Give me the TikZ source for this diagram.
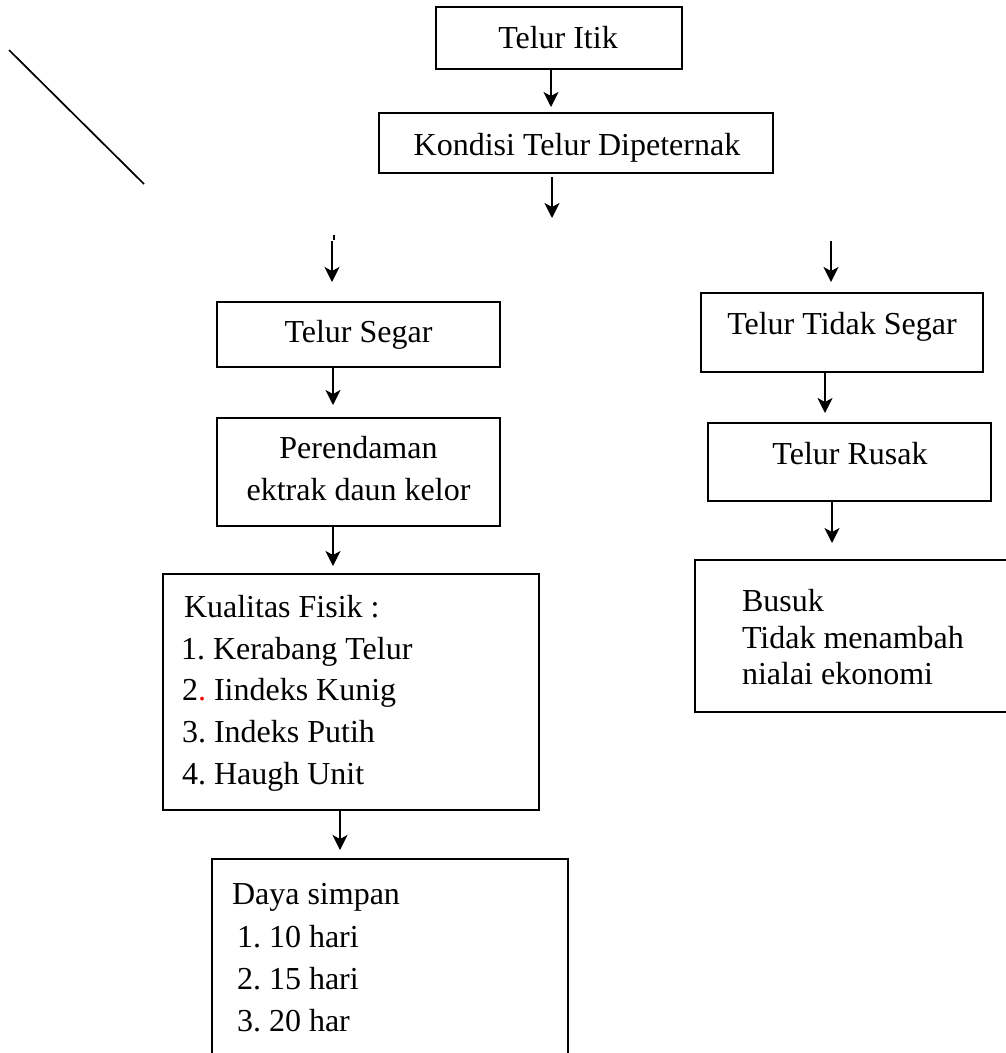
\documentclass[tikz,border=0pt]{standalone}
\usepackage{fontspec}
\setmainfont{Liberation Serif}
\usetikzlibrary{arrows.meta}
\frenchspacing
\tikzset{
  box/.style={draw, line width=1.7pt, inner sep=0pt, outer sep=0pt},
  txt/.style={inner sep=0pt, outer sep=0pt, font=\fontsize{32}{38}\selectfont},
  arr/.style={line width=1.7pt, -{Stealth[length=15pt,width=15pt,inset=4pt]}},
  plain/.style={line width=1.7pt}
}
\begin{document}
\begin{tikzpicture}[x=1pt,y=-1pt]
\useasboundingbox (0,0) rectangle (1006,1053);
\clip (0,0) rectangle (1006,1053);
% boxes
\node[box, minimum width=246pt, minimum height=62pt] (itik) at (559,38) {};
\node[box, minimum width=394pt, minimum height=60pt] (kondisi) at (576,143) {};
\node[box, minimum width=283pt, minimum height=65pt] (segar) at (358.5,334.5) {};
\node[box, minimum width=283pt, minimum height=108pt] (rendam) at (358.5,472) {};
\node[box, minimum width=376pt, minimum height=236pt] (fisik) at (351,692) {};
\node[box, minimum width=356pt, minimum height=250pt] (daya) at (390,984) {};
\node[box, minimum width=282pt, minimum height=79pt] (tts) at (842,332.5) {};
\node[box, minimum width=283pt, minimum height=78pt] (rusak) at (849.5,462) {};
\node[box, minimum width=335pt, minimum height=152pt] (busuk) at (862.5,636) {};
% texts
\node[txt, anchor=base] (titik) at (558,48) {Telur Itik};
\node[txt, anchor=base] (tkondisi) at (577,155) {Kondisi Telur Dipeternak};
\node[txt, anchor=base] (tsegar) at (358.5,342) {Telur Segar};
\node[txt, anchor=base] (trendam1) at (358.5,458) {Perendaman};
\node[txt, anchor=base] (trendam2) at (358.5,500) {ektrak daun kelor};
\node[txt, anchor=base west] (tfisik0) at (184,617) {Kualitas Fisik :};
\node[txt, anchor=base west] (tfisik1) at (181,659) {1. Kerabang Telur};
\node[txt, anchor=base west] (tfisik2) at (182,700) {2\textcolor{red}{.} Iindeks Kunig};
\node[txt, anchor=base west] (tfisik3) at (182,742) {3. Indeks Putih};
\node[txt, anchor=base west] (tfisik4) at (182,784) {4. Haugh Unit};
\node[txt, anchor=base west] (tdaya0) at (232,904) {Daya simpan};
\node[txt, anchor=base west] (tdaya1) at (237,947) {1. 10 hari};
\node[txt, anchor=base west] (tdaya2) at (237,989) {2. 15 hari};
\node[txt, anchor=base west] (tdaya3) at (237,1031) {3. 20 har};
\node[txt, anchor=base] (ttts) at (842,334) {Telur Tidak Segar};
\node[txt, anchor=base] (trusak) at (850,464) {Telur Rusak};
\node[txt, anchor=base west] (tbusuk1) at (742,611) {Busuk};
\node[txt, anchor=base west] (tbusuk2) at (742,648) {Tidak menambah};
\node[txt, anchor=base west] (tbusuk3) at (742,684) {nialai ekonomi};
% free coordinates
\coordinate (c2) at (552,218);
\coordinate (l1) at (332,241);
\coordinate (r1) at (831,241);
\coordinate (d1) at (9,50);
\coordinate (d2) at (144,184);
\coordinate (k1) at (334,235);
\coordinate (k2) at (334,239.5);
% connectors
\draw[arr] ([xshift=-8pt]itik.south) -- ([xshift=-25pt,yshift=6pt]kondisi.north);
\draw[arr] ([xshift=-24pt,yshift=-4pt]kondisi.south) -- (c2);
\draw[arr] (l1) -- ([xshift=-26.5pt,yshift=20pt]segar.north);
\draw[line width=1.3pt] (k1) -- (k2);
\draw[arr] (r1) -- ([xshift=-11pt,yshift=11pt]tts.north);
\draw[arr] ([xshift=-25.5pt]segar.south) -- ([xshift=-25.5pt,yshift=13pt]rendam.north);
\draw[arr] ([xshift=-25.5pt]rendam.south) -- ([xshift=-18pt,yshift=8pt]fisik.north);
\draw[arr] ([xshift=-11pt]fisik.south) -- ([xshift=-50pt,yshift=9pt]daya.north);
\draw[arr] ([xshift=-17pt]tts.south) -- ([xshift=-24.5pt,yshift=10pt]rusak.north);
\draw[arr] ([xshift=-17.5pt]rusak.south) -- ([xshift=-30.5pt,yshift=17pt]busuk.north);
\draw[plain] (d1) -- (d2);
\end{tikzpicture}
\end{document}
